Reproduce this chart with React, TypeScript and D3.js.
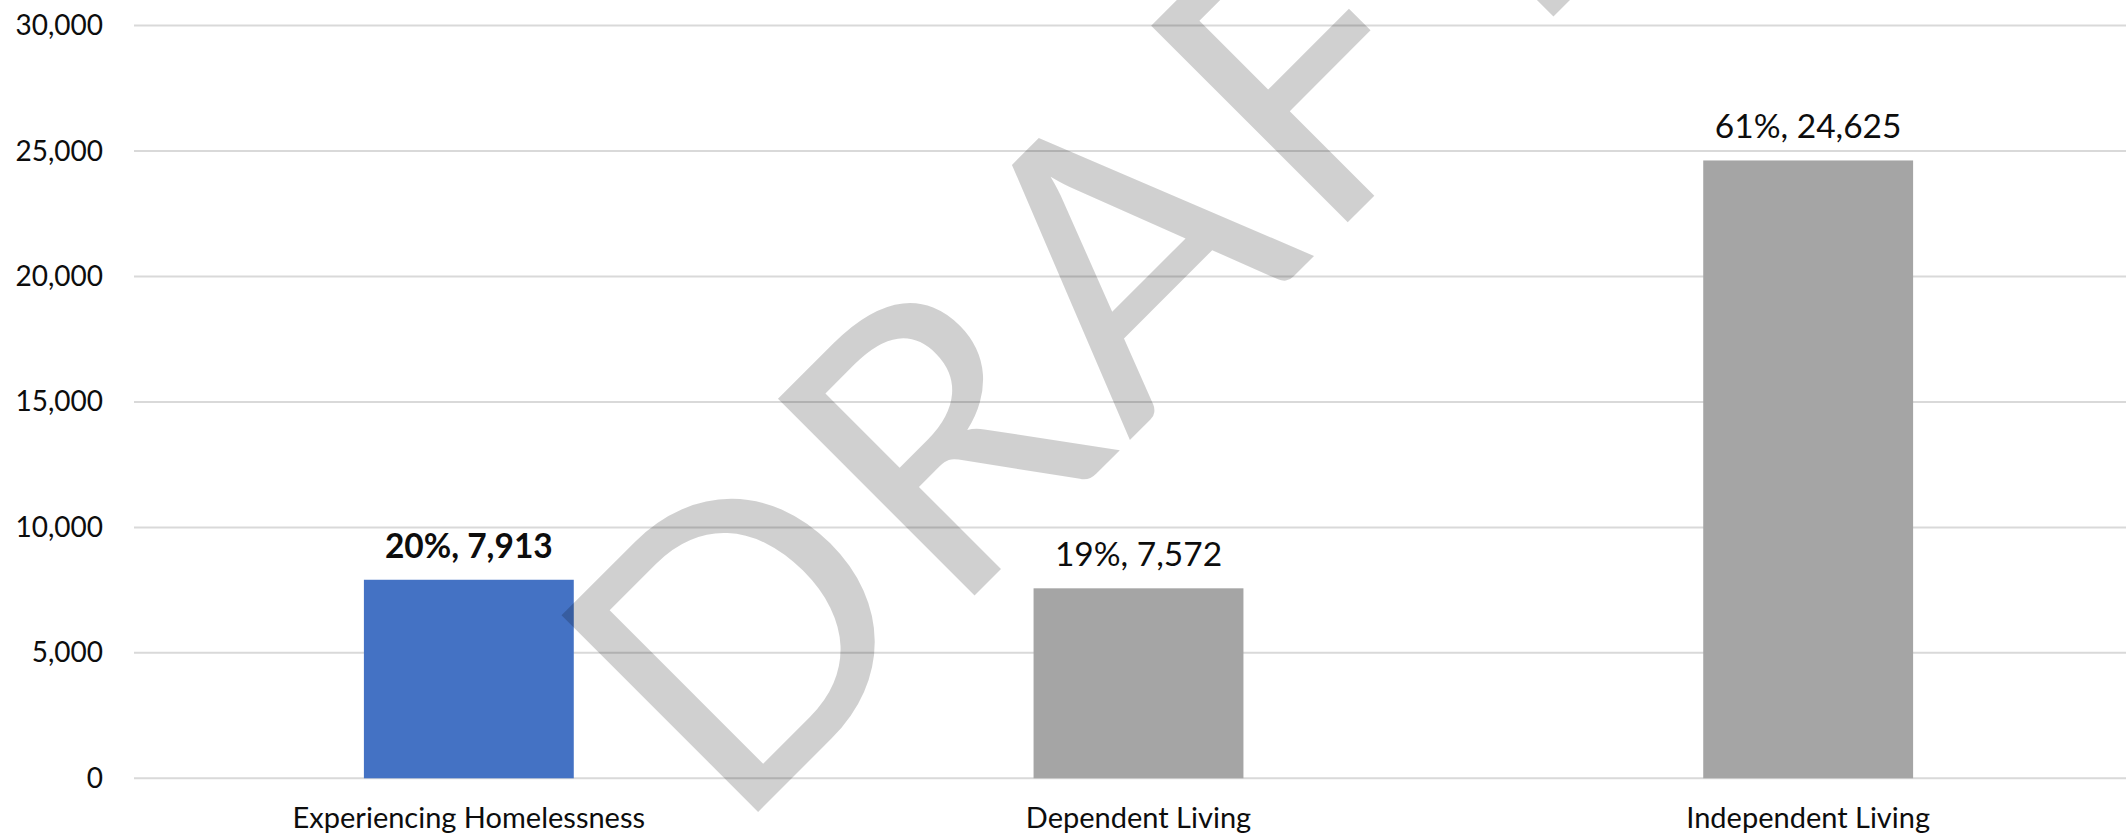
import React from "react";
import * as d3 from "d3";

// Living situation at exit: share and count per category
const categories = ["Experiencing Homelessness", "Dependent Living", "Independent Living"];
const counts = [7913, 7572, 24625];
const shares = ["20%", "19%", "61%"];
const yTicks = [0, 5000, 10000, 15000, 20000, 25000, 30000];
const highlightCategory = "Experiencing Homelessness";

const WIDTH = 2126;
const HEIGHT = 835;
const PLOT_LEFT = 134;
const PLOT_RIGHT = 2143;
const PLOT_TOP = 25.6;
const PLOT_BOTTOM = 778.3;

const FONT = "Lato, 'Open Sans', sans-serif";
const HIGHLIGHT_COLOR = "#4472C4";
const BASE_COLOR = "#A5A5A5";
const GRID_COLOR = "#D9D9D9";
const TEXT_COLOR = "#0d0d0d";

export default function App() {
  const x = d3
    .scaleBand<string>()
    .domain(categories)
    .range([PLOT_LEFT, PLOT_RIGHT])
    .paddingInner(0.6866)
    .paddingOuter(0.3433);

  const y = d3.scaleLinear().domain([0, 30000]).range([PLOT_BOTTOM, PLOT_TOP]);
  const fmt = d3.format(",");

  return (
    <svg
      width={WIDTH}
      height={HEIGHT}
      style={{ position: "absolute", left: 0, top: 0, background: "#fff" }}
      fontFamily={FONT}
    >
      <rect x={0} y={0} width={WIDTH} height={HEIGHT} fill="#fff" />

      {/* horizontal gridlines */}
      <g>
        {yTicks.map((t) => (
          <line
            key={t}
            x1={PLOT_LEFT}
            x2={WIDTH}
            y1={y(t)}
            y2={y(t)}
            stroke={GRID_COLOR}
            strokeWidth={2}
          />
        ))}
      </g>

      {/* y axis labels */}
      <g>
        {yTicks.map((t) => (
          <text
            key={t}
            x={103}
            y={y(t) + 9.5}
            textAnchor="end"
            fontSize={28}
            fill={TEXT_COLOR}
          >
            {fmt(t)}
          </text>
        ))}
      </g>

      {/* bars */}
      <g>
        {categories.map((c, i) => (
          <rect
            key={c}
            x={x(c)}
            y={y(counts[i])}
            width={x.bandwidth()}
            height={y(0) - y(counts[i])}
            fill={c === highlightCategory ? HIGHLIGHT_COLOR : BASE_COLOR}
          />
        ))}
      </g>

      {/* value labels */}
      <g>
        {categories.map((c, i) => (
          <text
            key={c}
            x={(x(c) ?? 0) + x.bandwidth() / 2}
            y={y(counts[i]) - 22}
            textAnchor="middle"
            fontSize={33.5}
            fontWeight={c === highlightCategory ? 700 : 400}
            fill={TEXT_COLOR}
          >
            {`${shares[i]}, ${fmt(counts[i])}`}
          </text>
        ))}
      </g>

      {/* category labels */}
      <g>
        {categories.map((c) => (
          <text
            key={c}
            x={(x(c) ?? 0) + x.bandwidth() / 2}
            y={PLOT_BOTTOM + 50}
            textAnchor="middle"
            fontSize={29}
            fill={TEXT_COLOR}
          >
            {c}
          </text>
        ))}
      </g>

      {/* DRAFT watermark */}
      <text
        transform="translate(733,837) rotate(-45)"
        fontSize={388}
        letterSpacing={11}
        fill="#000"
        fillOpacity={0.184}
        fontFamily={FONT}
      >
        DRAFT
      </text>
    </svg>
  );
}
